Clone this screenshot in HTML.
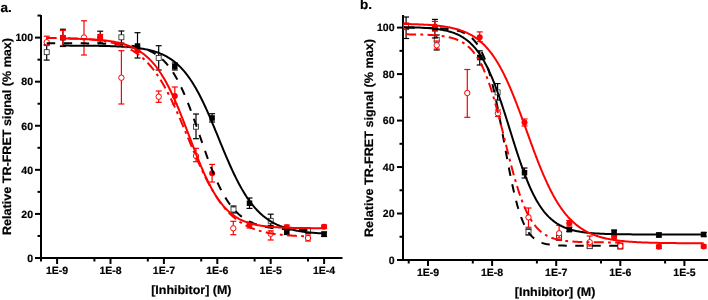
<!DOCTYPE html>
<html><head><meta charset="utf-8"><style>
html,body{margin:0;padding:0;background:#fff;}
svg{display:block;will-change:transform;}
text{font-family:"Liberation Sans", sans-serif;font-weight:bold;fill:#000;text-rendering:geometricPrecision;stroke:#000;stroke-width:0.2px;}
</style></head><body>
<svg width="708" height="300" viewBox="0 0 708 300">
<line x1="41.00" y1="15.00" x2="41.00" y2="259.00" stroke="#000000" stroke-width="2"/>
<line x1="40.00" y1="258.00" x2="342.50" y2="258.00" stroke="#000000" stroke-width="2"/>
<line x1="35.00" y1="258.00" x2="41.00" y2="258.00" stroke="#000000" stroke-width="2"/>
<text x="33.00" y="261.80" font-size="10.5" text-anchor="end">0</text>
<line x1="35.00" y1="213.92" x2="41.00" y2="213.92" stroke="#000000" stroke-width="2"/>
<text x="33.00" y="217.72" font-size="10.5" text-anchor="end">20</text>
<line x1="35.00" y1="169.84" x2="41.00" y2="169.84" stroke="#000000" stroke-width="2"/>
<text x="33.00" y="173.64" font-size="10.5" text-anchor="end">40</text>
<line x1="35.00" y1="125.76" x2="41.00" y2="125.76" stroke="#000000" stroke-width="2"/>
<text x="33.00" y="129.56" font-size="10.5" text-anchor="end">60</text>
<line x1="35.00" y1="81.68" x2="41.00" y2="81.68" stroke="#000000" stroke-width="2"/>
<text x="33.00" y="85.48" font-size="10.5" text-anchor="end">80</text>
<line x1="35.00" y1="37.60" x2="41.00" y2="37.60" stroke="#000000" stroke-width="2"/>
<text x="33.00" y="41.40" font-size="10.5" text-anchor="end">100</text>
<line x1="37.50" y1="235.96" x2="41.00" y2="235.96" stroke="#000000" stroke-width="2"/>
<line x1="37.50" y1="191.88" x2="41.00" y2="191.88" stroke="#000000" stroke-width="2"/>
<line x1="37.50" y1="147.80" x2="41.00" y2="147.80" stroke="#000000" stroke-width="2"/>
<line x1="37.50" y1="103.72" x2="41.00" y2="103.72" stroke="#000000" stroke-width="2"/>
<line x1="37.50" y1="59.64" x2="41.00" y2="59.64" stroke="#000000" stroke-width="2"/>
<line x1="37.50" y1="15.56" x2="41.00" y2="15.56" stroke="#000000" stroke-width="2"/>
<line x1="57.10" y1="258.00" x2="57.10" y2="264.00" stroke="#000000" stroke-width="2"/>
<text x="57.10" y="273.70" font-size="10.5" text-anchor="middle">1E-9</text>
<line x1="110.50" y1="258.00" x2="110.50" y2="264.00" stroke="#000000" stroke-width="2"/>
<text x="110.50" y="273.70" font-size="10.5" text-anchor="middle">1E-8</text>
<line x1="163.90" y1="258.00" x2="163.90" y2="264.00" stroke="#000000" stroke-width="2"/>
<text x="163.90" y="273.70" font-size="10.5" text-anchor="middle">1E-7</text>
<line x1="217.30" y1="258.00" x2="217.30" y2="264.00" stroke="#000000" stroke-width="2"/>
<text x="217.30" y="273.70" font-size="10.5" text-anchor="middle">1E-6</text>
<line x1="270.70" y1="258.00" x2="270.70" y2="264.00" stroke="#000000" stroke-width="2"/>
<text x="270.70" y="273.70" font-size="10.5" text-anchor="middle">1E-5</text>
<line x1="324.10" y1="258.00" x2="324.10" y2="264.00" stroke="#000000" stroke-width="2"/>
<text x="324.10" y="273.70" font-size="10.5" text-anchor="middle">1E-4</text>
<line x1="41.02" y1="258.00" x2="41.02" y2="261.50" stroke="#000000" stroke-width="2"/>
<line x1="94.42" y1="258.00" x2="94.42" y2="261.50" stroke="#000000" stroke-width="2"/>
<line x1="147.82" y1="258.00" x2="147.82" y2="261.50" stroke="#000000" stroke-width="2"/>
<line x1="201.22" y1="258.00" x2="201.22" y2="261.50" stroke="#000000" stroke-width="2"/>
<line x1="254.62" y1="258.00" x2="254.62" y2="261.50" stroke="#000000" stroke-width="2"/>
<line x1="308.02" y1="258.00" x2="308.02" y2="261.50" stroke="#000000" stroke-width="2"/>
<line x1="403.00" y1="15.00" x2="403.00" y2="261.00" stroke="#000000" stroke-width="2"/>
<line x1="402.00" y1="260.00" x2="708.00" y2="260.00" stroke="#000000" stroke-width="2"/>
<line x1="397.00" y1="260.00" x2="403.00" y2="260.00" stroke="#000000" stroke-width="2"/>
<text x="394.50" y="263.80" font-size="10.5" text-anchor="end">0</text>
<line x1="397.00" y1="213.52" x2="403.00" y2="213.52" stroke="#000000" stroke-width="2"/>
<text x="394.50" y="217.32" font-size="10.5" text-anchor="end">20</text>
<line x1="397.00" y1="167.04" x2="403.00" y2="167.04" stroke="#000000" stroke-width="2"/>
<text x="394.50" y="170.84" font-size="10.5" text-anchor="end">40</text>
<line x1="397.00" y1="120.56" x2="403.00" y2="120.56" stroke="#000000" stroke-width="2"/>
<text x="394.50" y="124.36" font-size="10.5" text-anchor="end">60</text>
<line x1="397.00" y1="74.08" x2="403.00" y2="74.08" stroke="#000000" stroke-width="2"/>
<text x="394.50" y="77.88" font-size="10.5" text-anchor="end">80</text>
<line x1="397.00" y1="27.60" x2="403.00" y2="27.60" stroke="#000000" stroke-width="2"/>
<text x="394.50" y="31.40" font-size="10.5" text-anchor="end">100</text>
<line x1="399.50" y1="236.76" x2="403.00" y2="236.76" stroke="#000000" stroke-width="2"/>
<line x1="399.50" y1="190.28" x2="403.00" y2="190.28" stroke="#000000" stroke-width="2"/>
<line x1="399.50" y1="143.80" x2="403.00" y2="143.80" stroke="#000000" stroke-width="2"/>
<line x1="399.50" y1="97.32" x2="403.00" y2="97.32" stroke="#000000" stroke-width="2"/>
<line x1="399.50" y1="50.84" x2="403.00" y2="50.84" stroke="#000000" stroke-width="2"/>
<line x1="428.00" y1="260.00" x2="428.00" y2="266.00" stroke="#000000" stroke-width="2"/>
<text x="428.00" y="275.70" font-size="10.5" text-anchor="middle">1E-9</text>
<line x1="492.10" y1="260.00" x2="492.10" y2="266.00" stroke="#000000" stroke-width="2"/>
<text x="492.10" y="275.70" font-size="10.5" text-anchor="middle">1E-8</text>
<line x1="556.20" y1="260.00" x2="556.20" y2="266.00" stroke="#000000" stroke-width="2"/>
<text x="556.20" y="275.70" font-size="10.5" text-anchor="middle">1E-7</text>
<line x1="620.30" y1="260.00" x2="620.30" y2="266.00" stroke="#000000" stroke-width="2"/>
<text x="620.30" y="275.70" font-size="10.5" text-anchor="middle">1E-6</text>
<line x1="684.40" y1="260.00" x2="684.40" y2="266.00" stroke="#000000" stroke-width="2"/>
<text x="684.40" y="275.70" font-size="10.5" text-anchor="middle">1E-5</text>
<line x1="408.70" y1="260.00" x2="408.70" y2="263.50" stroke="#000000" stroke-width="2"/>
<line x1="472.80" y1="260.00" x2="472.80" y2="263.50" stroke="#000000" stroke-width="2"/>
<line x1="536.90" y1="260.00" x2="536.90" y2="263.50" stroke="#000000" stroke-width="2"/>
<line x1="601.00" y1="260.00" x2="601.00" y2="263.50" stroke="#000000" stroke-width="2"/>
<line x1="665.10" y1="260.00" x2="665.10" y2="263.50" stroke="#000000" stroke-width="2"/>
<text x="151.2" y="293.6" font-size="12.2" textLength="80.3" lengthAdjust="spacingAndGlyphs">[Inhibitor] (M)</text>
<text x="514.8" y="296.1" font-size="12.2" textLength="80.6" lengthAdjust="spacingAndGlyphs">[Inhibitor] (M)</text>
<text x="0" y="0" font-size="12.2" textLength="197" lengthAdjust="spacingAndGlyphs" transform="translate(10.6,235) rotate(-90)">Relative TR-FRET signal (% max)</text>
<text x="0" y="0" font-size="12.2" textLength="198" lengthAdjust="spacingAndGlyphs" transform="translate(373.4,237) rotate(-90)">Relative TR-FRET signal (% max)</text>
<text x="0.50" y="12.30" font-size="13.5" text-anchor="start">a.</text>
<text x="360.00" y="9.20" font-size="13.5" text-anchor="start">b.</text>
<line x1="46.7" y1="44.5" x2="46.7" y2="60.1" stroke="#000000" stroke-width="1.2"/>
<line x1="43.7" y1="44.5" x2="49.7" y2="44.5" stroke="#000000" stroke-width="1.2"/>
<line x1="43.7" y1="60.1" x2="49.7" y2="60.1" stroke="#000000" stroke-width="1.2"/>
<rect x="44.2" y="49.7" width="5" height="5" fill="#fff" stroke="#222" stroke-width="0.8"/>
<line x1="121.4" y1="31" x2="121.4" y2="43" stroke="#000000" stroke-width="1.2"/>
<line x1="118.4" y1="31" x2="124.4" y2="31" stroke="#000000" stroke-width="1.2"/>
<line x1="118.4" y1="43" x2="124.4" y2="43" stroke="#000000" stroke-width="1.2"/>
<rect x="118.9" y="34.8" width="5" height="5" fill="#fff" stroke="#222" stroke-width="0.8"/>
<line x1="158.7" y1="45.7" x2="158.7" y2="70" stroke="#000000" stroke-width="1.2"/>
<line x1="155.7" y1="45.7" x2="161.7" y2="45.7" stroke="#000000" stroke-width="1.2"/>
<line x1="155.7" y1="70" x2="161.7" y2="70" stroke="#000000" stroke-width="1.2"/>
<rect x="156.2" y="55.5" width="5" height="5" fill="#fff" stroke="#222" stroke-width="0.8"/>
<line x1="196.0" y1="114" x2="196.0" y2="138.7" stroke="#000000" stroke-width="1.2"/>
<line x1="193.0" y1="114" x2="199.0" y2="114" stroke="#000000" stroke-width="1.2"/>
<line x1="193.0" y1="138.7" x2="199.0" y2="138.7" stroke="#000000" stroke-width="1.2"/>
<rect x="193.5" y="124.2" width="5" height="5" fill="#fff" stroke="#222" stroke-width="0.8"/>
<line x1="233.5" y1="206" x2="233.5" y2="213" stroke="#000000" stroke-width="1.2"/>
<line x1="230.5" y1="206" x2="236.5" y2="206" stroke="#000000" stroke-width="1.2"/>
<line x1="230.5" y1="213" x2="236.5" y2="213" stroke="#000000" stroke-width="1.2"/>
<rect x="231.0" y="207.0" width="5" height="5" fill="#fff" stroke="#222" stroke-width="0.8"/>
<line x1="270.7" y1="214.2" x2="270.7" y2="225.4" stroke="#000000" stroke-width="1.2"/>
<line x1="267.7" y1="214.2" x2="273.7" y2="214.2" stroke="#000000" stroke-width="1.2"/>
<line x1="267.7" y1="225.4" x2="273.7" y2="225.4" stroke="#000000" stroke-width="1.2"/>
<rect x="268.2" y="218.3" width="5" height="5" fill="#fff" stroke="#222" stroke-width="0.8"/>
<line x1="308.0" y1="228" x2="308.0" y2="233" stroke="#000000" stroke-width="1.2"/>
<line x1="305.0" y1="228" x2="311.0" y2="228" stroke="#000000" stroke-width="1.2"/>
<line x1="305.0" y1="233" x2="311.0" y2="233" stroke="#000000" stroke-width="1.2"/>
<rect x="305.5" y="228.3" width="5" height="5" fill="#fff" stroke="#222" stroke-width="0.8"/>
<line x1="46.7" y1="36.2" x2="46.7" y2="45.5" stroke="#ff0000" stroke-width="1.2"/>
<line x1="43.7" y1="36.2" x2="49.7" y2="36.2" stroke="#ff0000" stroke-width="1.2"/>
<line x1="43.7" y1="45.5" x2="49.7" y2="45.5" stroke="#ff0000" stroke-width="1.2"/>
<circle cx="46.7" cy="42.2" r="2.7" fill="#fff" stroke="#ff0000" stroke-width="1"/>
<line x1="84.0" y1="20.8" x2="84.0" y2="55" stroke="#ff0000" stroke-width="1.2"/>
<line x1="81.0" y1="20.8" x2="87.0" y2="20.8" stroke="#ff0000" stroke-width="1.2"/>
<line x1="81.0" y1="55" x2="87.0" y2="55" stroke="#ff0000" stroke-width="1.2"/>
<circle cx="84.0" cy="37.5" r="2.7" fill="#fff" stroke="#ff0000" stroke-width="1"/>
<line x1="121.4" y1="50.7" x2="121.4" y2="104" stroke="#ff0000" stroke-width="1.2"/>
<line x1="118.4" y1="50.7" x2="124.4" y2="50.7" stroke="#ff0000" stroke-width="1.2"/>
<line x1="118.4" y1="104" x2="124.4" y2="104" stroke="#ff0000" stroke-width="1.2"/>
<circle cx="121.4" cy="77.7" r="2.7" fill="#fff" stroke="#ff0000" stroke-width="1"/>
<line x1="158.7" y1="91" x2="158.7" y2="102.3" stroke="#ff0000" stroke-width="1.2"/>
<line x1="155.7" y1="91" x2="161.7" y2="91" stroke="#ff0000" stroke-width="1.2"/>
<line x1="155.7" y1="102.3" x2="161.7" y2="102.3" stroke="#ff0000" stroke-width="1.2"/>
<circle cx="158.7" cy="96.7" r="2.7" fill="#fff" stroke="#ff0000" stroke-width="1"/>
<line x1="196.0" y1="148.3" x2="196.0" y2="161.7" stroke="#ff0000" stroke-width="1.2"/>
<line x1="193.0" y1="148.3" x2="199.0" y2="148.3" stroke="#ff0000" stroke-width="1.2"/>
<line x1="193.0" y1="161.7" x2="199.0" y2="161.7" stroke="#ff0000" stroke-width="1.2"/>
<circle cx="196.0" cy="156" r="2.7" fill="#fff" stroke="#ff0000" stroke-width="1"/>
<line x1="233.3" y1="221.3" x2="233.3" y2="234.7" stroke="#ff0000" stroke-width="1.2"/>
<line x1="230.3" y1="221.3" x2="236.3" y2="221.3" stroke="#ff0000" stroke-width="1.2"/>
<line x1="230.3" y1="234.7" x2="236.3" y2="234.7" stroke="#ff0000" stroke-width="1.2"/>
<circle cx="233.3" cy="228.3" r="2.7" fill="#fff" stroke="#ff0000" stroke-width="1"/>
<line x1="270.7" y1="230.8" x2="270.7" y2="240" stroke="#ff0000" stroke-width="1.2"/>
<line x1="267.7" y1="230.8" x2="273.7" y2="230.8" stroke="#ff0000" stroke-width="1.2"/>
<line x1="267.7" y1="240" x2="273.7" y2="240" stroke="#ff0000" stroke-width="1.2"/>
<circle cx="270.7" cy="233.8" r="2.7" fill="#fff" stroke="#ff0000" stroke-width="1"/>
<line x1="308.0" y1="235" x2="308.0" y2="241" stroke="#ff0000" stroke-width="1.2"/>
<line x1="305.0" y1="235" x2="311.0" y2="235" stroke="#ff0000" stroke-width="1.2"/>
<line x1="305.0" y1="241" x2="311.0" y2="241" stroke="#ff0000" stroke-width="1.2"/>
<circle cx="308.0" cy="238" r="2.7" fill="#fff" stroke="#ff0000" stroke-width="1"/>
<line x1="62.9" y1="29.2" x2="62.9" y2="46.5" stroke="#000000" stroke-width="1.2"/>
<line x1="59.9" y1="29.2" x2="65.9" y2="29.2" stroke="#000000" stroke-width="1.2"/>
<line x1="59.9" y1="46.5" x2="65.9" y2="46.5" stroke="#000000" stroke-width="1.2"/>
<rect x="60.15" y="35.05" width="5.5" height="5.5" fill="#000000"/>
<line x1="100.2" y1="31.2" x2="100.2" y2="42.9" stroke="#000000" stroke-width="1.2"/>
<line x1="97.2" y1="31.2" x2="103.2" y2="31.2" stroke="#000000" stroke-width="1.2"/>
<line x1="97.2" y1="42.9" x2="103.2" y2="42.9" stroke="#000000" stroke-width="1.2"/>
<rect x="97.45" y="35.25" width="5.5" height="5.5" fill="#000000"/>
<line x1="137.5" y1="32.7" x2="137.5" y2="58" stroke="#000000" stroke-width="1.2"/>
<line x1="134.5" y1="32.7" x2="140.5" y2="32.7" stroke="#000000" stroke-width="1.2"/>
<line x1="134.5" y1="58" x2="140.5" y2="58" stroke="#000000" stroke-width="1.2"/>
<rect x="134.75" y="43.25" width="5.5" height="5.5" fill="#000000"/>
<line x1="174.8" y1="63" x2="174.8" y2="70" stroke="#000000" stroke-width="1.2"/>
<line x1="171.8" y1="63" x2="177.8" y2="63" stroke="#000000" stroke-width="1.2"/>
<line x1="171.8" y1="70" x2="177.8" y2="70" stroke="#000000" stroke-width="1.2"/>
<rect x="172.05" y="63.75" width="5.5" height="5.5" fill="#000000"/>
<line x1="212.1" y1="113.7" x2="212.1" y2="122" stroke="#000000" stroke-width="1.2"/>
<line x1="209.1" y1="113.7" x2="215.1" y2="113.7" stroke="#000000" stroke-width="1.2"/>
<line x1="209.1" y1="122" x2="215.1" y2="122" stroke="#000000" stroke-width="1.2"/>
<rect x="209.35" y="115.25" width="5.5" height="5.5" fill="#000000"/>
<line x1="249.5" y1="198" x2="249.5" y2="208.4" stroke="#000000" stroke-width="1.2"/>
<line x1="246.5" y1="198" x2="252.5" y2="198" stroke="#000000" stroke-width="1.2"/>
<line x1="246.5" y1="208.4" x2="252.5" y2="208.4" stroke="#000000" stroke-width="1.2"/>
<rect x="246.75" y="200.45" width="5.5" height="5.5" fill="#000000"/>
<line x1="286.8" y1="229" x2="286.8" y2="234.5" stroke="#000000" stroke-width="1.2"/>
<line x1="283.8" y1="229" x2="289.8" y2="229" stroke="#000000" stroke-width="1.2"/>
<line x1="283.8" y1="234.5" x2="289.8" y2="234.5" stroke="#000000" stroke-width="1.2"/>
<rect x="284.05" y="228.95" width="5.5" height="5.5" fill="#000000"/>
<line x1="324.1" y1="232" x2="324.1" y2="236.5" stroke="#000000" stroke-width="1.2"/>
<line x1="321.1" y1="232" x2="327.1" y2="232" stroke="#000000" stroke-width="1.2"/>
<line x1="321.1" y1="236.5" x2="327.1" y2="236.5" stroke="#000000" stroke-width="1.2"/>
<rect x="321.35" y="231.45" width="5.5" height="5.5" fill="#000000"/>
<line x1="62.9" y1="30.5" x2="62.9" y2="45.5" stroke="#ff0000" stroke-width="1.2"/>
<line x1="59.9" y1="30.5" x2="65.9" y2="30.5" stroke="#ff0000" stroke-width="1.2"/>
<line x1="59.9" y1="45.5" x2="65.9" y2="45.5" stroke="#ff0000" stroke-width="1.2"/>
<circle cx="62.9" cy="37.5" r="3" fill="#ff0000"/>
<line x1="100.2" y1="34.5" x2="100.2" y2="41" stroke="#ff0000" stroke-width="1.2"/>
<line x1="97.2" y1="34.5" x2="103.2" y2="34.5" stroke="#ff0000" stroke-width="1.2"/>
<line x1="97.2" y1="41" x2="103.2" y2="41" stroke="#ff0000" stroke-width="1.2"/>
<circle cx="100.2" cy="37.8" r="3" fill="#ff0000"/>
<line x1="137.5" y1="48.5" x2="137.5" y2="52.5" stroke="#ff0000" stroke-width="1.2"/>
<line x1="134.5" y1="48.5" x2="140.5" y2="48.5" stroke="#ff0000" stroke-width="1.2"/>
<line x1="134.5" y1="52.5" x2="140.5" y2="52.5" stroke="#ff0000" stroke-width="1.2"/>
<circle cx="137.5" cy="50.5" r="3" fill="#ff0000"/>
<line x1="174.8" y1="87" x2="174.8" y2="104" stroke="#ff0000" stroke-width="1.2"/>
<line x1="171.8" y1="87" x2="177.8" y2="87" stroke="#ff0000" stroke-width="1.2"/>
<line x1="171.8" y1="104" x2="177.8" y2="104" stroke="#ff0000" stroke-width="1.2"/>
<circle cx="174.8" cy="96" r="3" fill="#ff0000"/>
<line x1="212.1" y1="164.4" x2="212.1" y2="182" stroke="#ff0000" stroke-width="1.2"/>
<line x1="209.1" y1="164.4" x2="215.1" y2="164.4" stroke="#ff0000" stroke-width="1.2"/>
<line x1="209.1" y1="182" x2="215.1" y2="182" stroke="#ff0000" stroke-width="1.2"/>
<circle cx="212.1" cy="173.3" r="3" fill="#ff0000"/>
<line x1="249.5" y1="222" x2="249.5" y2="228" stroke="#ff0000" stroke-width="1.2"/>
<line x1="246.5" y1="222" x2="252.5" y2="222" stroke="#ff0000" stroke-width="1.2"/>
<line x1="246.5" y1="228" x2="252.5" y2="228" stroke="#ff0000" stroke-width="1.2"/>
<circle cx="249.5" cy="225" r="3" fill="#ff0000"/>
<line x1="286.8" y1="225" x2="286.8" y2="229.5" stroke="#ff0000" stroke-width="1.2"/>
<line x1="283.8" y1="225" x2="289.8" y2="225" stroke="#ff0000" stroke-width="1.2"/>
<line x1="283.8" y1="229.5" x2="289.8" y2="229.5" stroke="#ff0000" stroke-width="1.2"/>
<circle cx="286.8" cy="227.2" r="3" fill="#ff0000"/>
<line x1="324.1" y1="225" x2="324.1" y2="228.5" stroke="#ff0000" stroke-width="1.2"/>
<line x1="321.1" y1="225" x2="327.1" y2="225" stroke="#ff0000" stroke-width="1.2"/>
<line x1="321.1" y1="228.5" x2="327.1" y2="228.5" stroke="#ff0000" stroke-width="1.2"/>
<circle cx="324.1" cy="226.7" r="3" fill="#ff0000"/>
<line x1="406.1" y1="17" x2="406.1" y2="38.5" stroke="#000000" stroke-width="1.2"/>
<line x1="403.1" y1="17" x2="409.1" y2="17" stroke="#000000" stroke-width="1.2"/>
<line x1="403.1" y1="38.5" x2="409.1" y2="38.5" stroke="#000000" stroke-width="1.2"/>
<rect x="403.6" y="24.5" width="5" height="5" fill="#fff" stroke="#222" stroke-width="0.8"/>
<line x1="436.7" y1="35" x2="436.7" y2="50" stroke="#000000" stroke-width="1.2"/>
<line x1="433.7" y1="35" x2="439.7" y2="35" stroke="#000000" stroke-width="1.2"/>
<line x1="433.7" y1="50" x2="439.7" y2="50" stroke="#000000" stroke-width="1.2"/>
<rect x="434.2" y="37.3" width="5" height="5" fill="#fff" stroke="#222" stroke-width="0.8"/>
<line x1="497.6" y1="83.6" x2="497.6" y2="100" stroke="#000000" stroke-width="1.2"/>
<line x1="494.6" y1="83.6" x2="500.6" y2="83.6" stroke="#000000" stroke-width="1.2"/>
<line x1="494.6" y1="100" x2="500.6" y2="100" stroke="#000000" stroke-width="1.2"/>
<rect x="495.1" y="89.9" width="5" height="5" fill="#fff" stroke="#222" stroke-width="0.8"/>
<line x1="528.5" y1="229" x2="528.5" y2="235" stroke="#000000" stroke-width="1.2"/>
<line x1="525.5" y1="229" x2="531.5" y2="229" stroke="#000000" stroke-width="1.2"/>
<line x1="525.5" y1="235" x2="531.5" y2="235" stroke="#000000" stroke-width="1.2"/>
<rect x="526.0" y="229.5" width="5" height="5" fill="#fff" stroke="#222" stroke-width="0.8"/>
<line x1="559.1" y1="236" x2="559.1" y2="240" stroke="#000000" stroke-width="1.2"/>
<line x1="556.1" y1="236" x2="562.1" y2="236" stroke="#000000" stroke-width="1.2"/>
<line x1="556.1" y1="240" x2="562.1" y2="240" stroke="#000000" stroke-width="1.2"/>
<rect x="556.6" y="235.5" width="5" height="5" fill="#fff" stroke="#222" stroke-width="0.8"/>
<line x1="589.7" y1="244" x2="589.7" y2="248" stroke="#000000" stroke-width="1.2"/>
<line x1="586.7" y1="244" x2="592.7" y2="244" stroke="#000000" stroke-width="1.2"/>
<line x1="586.7" y1="248" x2="592.7" y2="248" stroke="#000000" stroke-width="1.2"/>
<rect x="587.2" y="243.7" width="5" height="5" fill="#fff" stroke="#222" stroke-width="0.8"/>
<line x1="620.3" y1="244" x2="620.3" y2="248" stroke="#000000" stroke-width="1.2"/>
<line x1="617.3" y1="244" x2="623.3" y2="244" stroke="#000000" stroke-width="1.2"/>
<line x1="617.3" y1="248" x2="623.3" y2="248" stroke="#000000" stroke-width="1.2"/>
<rect x="617.8" y="243.7" width="5" height="5" fill="#fff" stroke="#222" stroke-width="0.8"/>
<line x1="406.1" y1="23" x2="406.1" y2="29.5" stroke="#ff0000" stroke-width="1.2"/>
<line x1="403.1" y1="23" x2="409.1" y2="23" stroke="#ff0000" stroke-width="1.2"/>
<line x1="403.1" y1="29.5" x2="409.1" y2="29.5" stroke="#ff0000" stroke-width="1.2"/>
<circle cx="406.1" cy="26" r="2.7" fill="#fff" stroke="#ff0000" stroke-width="1"/>
<line x1="436.7" y1="41" x2="436.7" y2="49" stroke="#ff0000" stroke-width="1.2"/>
<line x1="433.7" y1="41" x2="439.7" y2="41" stroke="#ff0000" stroke-width="1.2"/>
<line x1="433.7" y1="49" x2="439.7" y2="49" stroke="#ff0000" stroke-width="1.2"/>
<circle cx="436.7" cy="45.3" r="2.7" fill="#fff" stroke="#ff0000" stroke-width="1"/>
<line x1="467.3" y1="69.5" x2="467.3" y2="117.3" stroke="#ff0000" stroke-width="1.2"/>
<line x1="464.3" y1="69.5" x2="470.3" y2="69.5" stroke="#ff0000" stroke-width="1.2"/>
<line x1="464.3" y1="117.3" x2="470.3" y2="117.3" stroke="#ff0000" stroke-width="1.2"/>
<circle cx="467.3" cy="93" r="2.7" fill="#fff" stroke="#ff0000" stroke-width="1"/>
<line x1="497.9" y1="110" x2="497.9" y2="116.5" stroke="#ff0000" stroke-width="1.2"/>
<line x1="494.9" y1="110" x2="500.9" y2="110" stroke="#ff0000" stroke-width="1.2"/>
<line x1="494.9" y1="116.5" x2="500.9" y2="116.5" stroke="#ff0000" stroke-width="1.2"/>
<circle cx="497.9" cy="113.3" r="2.7" fill="#fff" stroke="#ff0000" stroke-width="1"/>
<line x1="528.5" y1="208" x2="528.5" y2="227.3" stroke="#ff0000" stroke-width="1.2"/>
<line x1="525.5" y1="208" x2="531.5" y2="208" stroke="#ff0000" stroke-width="1.2"/>
<line x1="525.5" y1="227.3" x2="531.5" y2="227.3" stroke="#ff0000" stroke-width="1.2"/>
<circle cx="528.5" cy="217.3" r="2.7" fill="#fff" stroke="#ff0000" stroke-width="1"/>
<line x1="559.1" y1="225.3" x2="559.1" y2="238" stroke="#ff0000" stroke-width="1.2"/>
<line x1="556.1" y1="225.3" x2="562.1" y2="225.3" stroke="#ff0000" stroke-width="1.2"/>
<line x1="556.1" y1="238" x2="562.1" y2="238" stroke="#ff0000" stroke-width="1.2"/>
<circle cx="559.1" cy="233.3" r="2.7" fill="#fff" stroke="#ff0000" stroke-width="1"/>
<line x1="589.7" y1="236" x2="589.7" y2="246" stroke="#ff0000" stroke-width="1.2"/>
<line x1="586.7" y1="236" x2="592.7" y2="236" stroke="#ff0000" stroke-width="1.2"/>
<line x1="586.7" y1="246" x2="592.7" y2="246" stroke="#ff0000" stroke-width="1.2"/>
<circle cx="589.7" cy="242.2" r="2.7" fill="#fff" stroke="#ff0000" stroke-width="1"/>
<line x1="620.3" y1="243" x2="620.3" y2="249" stroke="#ff0000" stroke-width="1.2"/>
<line x1="617.3" y1="243" x2="623.3" y2="243" stroke="#ff0000" stroke-width="1.2"/>
<line x1="617.3" y1="249" x2="623.3" y2="249" stroke="#ff0000" stroke-width="1.2"/>
<circle cx="620.3" cy="246" r="2.7" fill="#fff" stroke="#ff0000" stroke-width="1"/>
<line x1="434.9" y1="19.4" x2="434.9" y2="38" stroke="#000000" stroke-width="1.2"/>
<line x1="431.9" y1="19.4" x2="437.9" y2="19.4" stroke="#000000" stroke-width="1.2"/>
<line x1="431.9" y1="38" x2="437.9" y2="38" stroke="#000000" stroke-width="1.2"/>
<rect x="432.15" y="25.75" width="5.5" height="5.5" fill="#000000"/>
<line x1="479.7" y1="50.8" x2="479.7" y2="65" stroke="#000000" stroke-width="1.2"/>
<line x1="476.7" y1="50.8" x2="482.7" y2="50.8" stroke="#000000" stroke-width="1.2"/>
<line x1="476.7" y1="65" x2="482.7" y2="65" stroke="#000000" stroke-width="1.2"/>
<rect x="476.95" y="54.75" width="5.5" height="5.5" fill="#000000"/>
<line x1="524.5" y1="168" x2="524.5" y2="178" stroke="#000000" stroke-width="1.2"/>
<line x1="521.5" y1="168" x2="527.5" y2="168" stroke="#000000" stroke-width="1.2"/>
<line x1="521.5" y1="178" x2="527.5" y2="178" stroke="#000000" stroke-width="1.2"/>
<rect x="521.75" y="169.95" width="5.5" height="5.5" fill="#000000"/>
<line x1="569.3" y1="227.5" x2="569.3" y2="231.5" stroke="#000000" stroke-width="1.2"/>
<line x1="566.3" y1="227.5" x2="572.3" y2="227.5" stroke="#000000" stroke-width="1.2"/>
<line x1="566.3" y1="231.5" x2="572.3" y2="231.5" stroke="#000000" stroke-width="1.2"/>
<rect x="566.55" y="226.85" width="5.5" height="5.5" fill="#000000"/>
<line x1="614.1" y1="230" x2="614.1" y2="235" stroke="#000000" stroke-width="1.2"/>
<line x1="611.1" y1="230" x2="617.1" y2="230" stroke="#000000" stroke-width="1.2"/>
<line x1="611.1" y1="235" x2="617.1" y2="235" stroke="#000000" stroke-width="1.2"/>
<rect x="611.35" y="229.85" width="5.5" height="5.5" fill="#000000"/>
<line x1="658.9" y1="233" x2="658.9" y2="237" stroke="#000000" stroke-width="1.2"/>
<line x1="655.9" y1="233" x2="661.9" y2="233" stroke="#000000" stroke-width="1.2"/>
<line x1="655.9" y1="237" x2="661.9" y2="237" stroke="#000000" stroke-width="1.2"/>
<rect x="656.15" y="232.25" width="5.5" height="5.5" fill="#000000"/>
<line x1="703.7" y1="232.5" x2="703.7" y2="236.5" stroke="#000000" stroke-width="1.2"/>
<line x1="700.7" y1="232.5" x2="706.7" y2="232.5" stroke="#000000" stroke-width="1.2"/>
<line x1="700.7" y1="236.5" x2="706.7" y2="236.5" stroke="#000000" stroke-width="1.2"/>
<rect x="700.95" y="231.75" width="5.5" height="5.5" fill="#000000"/>
<line x1="434.9" y1="21.4" x2="434.9" y2="31" stroke="#ff0000" stroke-width="1.2"/>
<line x1="431.9" y1="21.4" x2="437.9" y2="21.4" stroke="#ff0000" stroke-width="1.2"/>
<line x1="431.9" y1="31" x2="437.9" y2="31" stroke="#ff0000" stroke-width="1.2"/>
<circle cx="434.9" cy="26.5" r="3" fill="#ff0000"/>
<line x1="479.7" y1="31.9" x2="479.7" y2="41.7" stroke="#ff0000" stroke-width="1.2"/>
<line x1="476.7" y1="31.9" x2="482.7" y2="31.9" stroke="#ff0000" stroke-width="1.2"/>
<line x1="476.7" y1="41.7" x2="482.7" y2="41.7" stroke="#ff0000" stroke-width="1.2"/>
<circle cx="479.7" cy="37.3" r="3" fill="#ff0000"/>
<line x1="524.5" y1="119" x2="524.5" y2="126" stroke="#ff0000" stroke-width="1.2"/>
<line x1="521.5" y1="119" x2="527.5" y2="119" stroke="#ff0000" stroke-width="1.2"/>
<line x1="521.5" y1="126" x2="527.5" y2="126" stroke="#ff0000" stroke-width="1.2"/>
<circle cx="524.5" cy="122.5" r="3" fill="#ff0000"/>
<line x1="569.3" y1="220.5" x2="569.3" y2="226" stroke="#ff0000" stroke-width="1.2"/>
<line x1="566.3" y1="220.5" x2="572.3" y2="220.5" stroke="#ff0000" stroke-width="1.2"/>
<line x1="566.3" y1="226" x2="572.3" y2="226" stroke="#ff0000" stroke-width="1.2"/>
<circle cx="569.3" cy="223.3" r="3" fill="#ff0000"/>
<line x1="614.1" y1="234" x2="614.1" y2="239" stroke="#ff0000" stroke-width="1.2"/>
<line x1="611.1" y1="234" x2="617.1" y2="234" stroke="#ff0000" stroke-width="1.2"/>
<line x1="611.1" y1="239" x2="617.1" y2="239" stroke="#ff0000" stroke-width="1.2"/>
<circle cx="614.1" cy="236.8" r="3" fill="#ff0000"/>
<line x1="658.9" y1="245" x2="658.9" y2="248.5" stroke="#ff0000" stroke-width="1.2"/>
<line x1="655.9" y1="245" x2="661.9" y2="245" stroke="#ff0000" stroke-width="1.2"/>
<line x1="655.9" y1="248.5" x2="661.9" y2="248.5" stroke="#ff0000" stroke-width="1.2"/>
<circle cx="658.9" cy="246.8" r="3" fill="#ff0000"/>
<line x1="703.7" y1="245" x2="703.7" y2="248" stroke="#ff0000" stroke-width="1.2"/>
<line x1="700.7" y1="245" x2="706.7" y2="245" stroke="#ff0000" stroke-width="1.2"/>
<line x1="700.7" y1="248" x2="706.7" y2="248" stroke="#ff0000" stroke-width="1.2"/>
<circle cx="703.7" cy="246.5" r="3" fill="#ff0000"/>
<polyline points="62.9,45.61 63.9,45.61 64.9,45.61 65.9,45.61 66.9,45.62 67.9,45.62 68.9,45.62 69.9,45.63 70.9,45.63 71.9,45.63 72.9,45.64 73.9,45.64 74.9,45.65 75.9,45.65 76.9,45.66 77.9,45.66 78.9,45.67 79.9,45.67 80.9,45.68 81.9,45.69 82.9,45.69 83.9,45.70 84.9,45.71 85.9,45.72 86.9,45.73 87.9,45.73 88.9,45.74 89.9,45.75 90.9,45.76 91.9,45.78 92.9,45.79 93.9,45.80 94.9,45.81 95.9,45.83 96.9,45.84 97.9,45.86 98.9,45.87 99.9,45.89 100.9,45.91 101.9,45.93 102.9,45.95 103.9,45.97 104.9,45.99 105.9,46.02 106.9,46.04 107.9,46.07 108.9,46.10 109.9,46.12 110.9,46.16 111.9,46.19 112.9,46.22 113.9,46.26 114.9,46.30 115.9,46.34 116.9,46.38 117.9,46.42 118.9,46.47 119.9,46.52 120.9,46.57 121.9,46.63 122.9,46.69 123.9,46.75 124.9,46.81 125.9,46.88 126.9,46.95 127.9,47.03 128.9,47.11 129.9,47.19 130.9,47.28 131.9,47.38 132.9,47.48 133.9,47.58 134.9,47.69 135.9,47.81 136.9,47.93 137.9,48.06 138.9,48.19 139.9,48.33 140.9,48.48 141.9,48.64 142.9,48.81 143.9,48.98 144.9,49.16 145.9,49.36 146.9,49.56 147.9,49.78 148.9,50.00 149.9,50.24 150.9,50.49 151.9,50.75 152.9,51.03 153.9,51.32 154.9,51.63 155.9,51.95 156.9,52.28 157.9,52.64 158.9,53.01 159.9,53.40 160.9,53.81 161.9,54.24 162.9,54.70 163.9,55.17 164.9,55.67 165.9,56.19 166.9,56.74 167.9,57.31 168.9,57.91 169.9,58.54 170.9,59.20 171.9,59.89 172.9,60.61 173.9,61.36 174.9,62.15 175.9,62.97 176.9,63.83 177.9,64.73 178.9,65.67 179.9,66.64 180.9,67.65 181.9,68.71 182.9,69.81 183.9,70.96 184.9,72.14 185.9,73.38 186.9,74.66 187.9,75.99 188.9,77.36 189.9,78.79 190.9,80.26 191.9,81.78 192.9,83.36 193.9,84.98 194.9,86.65 195.9,88.37 196.9,90.15 197.9,91.97 198.9,93.83 199.9,95.75 200.9,97.71 201.9,99.72 202.9,101.77 203.9,103.87 204.9,106.00 205.9,108.18 206.9,110.39 207.9,112.64 208.9,114.92 209.9,117.22 210.9,119.56 211.9,121.92 212.9,124.30 213.9,126.70 214.9,129.12 215.9,131.55 216.9,133.98 217.9,136.43 218.9,138.87 219.9,141.32 220.9,143.76 221.9,146.19 222.9,148.61 223.9,151.02 224.9,153.41 225.9,155.78 226.9,158.13 227.9,160.45 228.9,162.75 229.9,165.01 230.9,167.24 231.9,169.44 232.9,171.60 233.9,173.72 234.9,175.80 235.9,177.83 236.9,179.83 237.9,181.78 238.9,183.69 239.9,185.54 240.9,187.36 241.9,189.12 242.9,190.84 243.9,192.51 244.9,194.13 245.9,195.71 246.9,197.23 247.9,198.71 248.9,200.15 249.9,201.53 250.9,202.88 251.9,204.17 252.9,205.42 253.9,206.63 254.9,207.80 255.9,208.92 256.9,210.01 257.9,211.05 258.9,212.05 259.9,213.02 260.9,213.95 261.9,214.84 262.9,215.70 263.9,216.52 264.9,217.31 265.9,218.07 266.9,218.80 267.9,219.50 268.9,220.17 269.9,220.81 270.9,221.43 271.9,222.01 272.9,222.58 273.9,223.12 274.9,223.64 275.9,224.13 276.9,224.61 277.9,225.06 278.9,225.49 279.9,225.91 280.9,226.30 281.9,226.68 282.9,227.04 283.9,227.39 284.9,227.72 285.9,228.04 286.9,228.34 287.9,228.63 288.9,228.90 289.9,229.16 290.9,229.41 291.9,229.65 292.9,229.88 293.9,230.10 294.9,230.31 295.9,230.51 296.9,230.70 297.9,230.88 298.9,231.05 299.9,231.22 300.9,231.37 301.9,231.52 302.9,231.67 303.9,231.80 304.9,231.93 305.9,232.06 306.9,232.18 307.9,232.29 308.9,232.40 309.9,232.50 310.9,232.60 311.9,232.69 312.9,232.78 313.9,232.86 314.9,232.94 315.9,233.02 316.9,233.09 317.9,233.16 318.9,233.23 319.9,233.30 320.9,233.36 321.9,233.41 322.9,233.47 323.9,233.52 324.1,233.53" fill="none" stroke="#000000" stroke-width="2.0" stroke-linejoin="round"/>
<polyline points="46.7,43.24 47.7,43.24 48.7,43.24 49.7,43.24 50.7,43.24 51.7,43.24 52.7,43.24 53.7,43.24 54.7,43.24 55.7,43.25 56.7,43.25 57.7,43.25 58.7,43.25 59.7,43.25 60.7,43.25 61.7,43.26 62.7,43.26 63.7,43.26 64.7,43.26 65.7,43.26 66.7,43.27 67.7,43.27 68.7,43.27 69.7,43.28 70.7,43.28 71.7,43.28 72.7,43.29 73.7,43.29 74.7,43.30 75.7,43.30 76.7,43.30 77.7,43.31 78.7,43.32 79.7,43.32 80.7,43.33 81.7,43.33 82.7,43.34 83.7,43.35 84.7,43.36 85.7,43.37 86.7,43.38 87.7,43.39 88.7,43.40 89.7,43.41 90.7,43.42 91.7,43.43 92.7,43.44 93.7,43.46 94.7,43.47 95.7,43.49 96.7,43.51 97.7,43.53 98.7,43.55 99.7,43.57 100.7,43.59 101.7,43.61 102.7,43.64 103.7,43.66 104.7,43.69 105.7,43.72 106.7,43.76 107.7,43.79 108.7,43.83 109.7,43.86 110.7,43.91 111.7,43.95 112.7,44.00 113.7,44.05 114.7,44.10 115.7,44.16 116.7,44.22 117.7,44.28 118.7,44.35 119.7,44.42 120.7,44.50 121.7,44.58 122.7,44.67 123.7,44.76 124.7,44.86 125.7,44.97 126.7,45.08 127.7,45.20 128.7,45.33 129.7,45.46 130.7,45.60 131.7,45.76 132.7,45.92 133.7,46.09 134.7,46.27 135.7,46.47 136.7,46.68 137.7,46.90 138.7,47.13 139.7,47.38 140.7,47.64 141.7,47.92 142.7,48.22 143.7,48.53 144.7,48.87 145.7,49.22 146.7,49.60 147.7,50.00 148.7,50.42 149.7,50.87 150.7,51.34 151.7,51.85 152.7,52.38 153.7,52.94 154.7,53.54 155.7,54.17 156.7,54.83 157.7,55.54 158.7,56.28 159.7,57.06 160.7,57.89 161.7,58.76 162.7,59.68 163.7,60.65 164.7,61.67 165.7,62.74 166.7,63.86 167.7,65.05 168.7,66.28 169.7,67.58 170.7,68.94 171.7,70.37 172.7,71.85 173.7,73.41 174.7,75.03 175.7,76.72 176.7,78.48 177.7,80.30 178.7,82.20 179.7,84.17 180.7,86.20 181.7,88.31 182.7,90.48 183.7,92.72 184.7,95.03 185.7,97.40 186.7,99.84 187.7,102.33 188.7,104.88 189.7,107.48 190.7,110.14 191.7,112.84 192.7,115.58 193.7,118.36 194.7,121.17 195.7,124.01 196.7,126.88 197.7,129.76 198.7,132.65 199.7,135.54 200.7,138.44 201.7,141.34 202.7,144.22 203.7,147.08 204.7,149.93 205.7,152.75 206.7,155.54 207.7,158.29 208.7,161.00 209.7,163.66 210.7,166.28 211.7,168.85 212.7,171.36 213.7,173.81 214.7,176.20 215.7,178.53 216.7,180.79 217.7,182.99 218.7,185.12 219.7,187.19 220.7,189.18 221.7,191.11 222.7,192.97 223.7,194.76 224.7,196.48 225.7,198.14 226.7,199.73 227.7,201.26 228.7,202.72 229.7,204.12 230.7,205.46 231.7,206.74 232.7,207.96 233.7,209.13 234.7,210.24 235.7,211.30 236.7,212.31 237.7,213.27 238.7,214.19 239.7,215.06 240.7,215.88 241.7,216.67 242.7,217.41 243.7,218.12 244.7,218.79 245.7,219.43 246.7,220.03 247.7,220.60 248.7,221.14 249.7,221.65 250.7,222.14 251.7,222.59 252.7,223.03 253.7,223.44 254.7,223.82 255.7,224.19 256.7,224.54 257.7,224.86 258.7,225.17 259.7,225.47 260.7,225.74 261.7,226.00 262.7,226.25 263.7,226.48 264.7,226.70 265.7,226.91 266.7,227.10 267.7,227.28 268.7,227.46 269.7,227.62 270.7,227.78 271.7,227.92 272.7,228.06 273.7,228.19 274.7,228.31 275.7,228.43 276.7,228.54 277.7,228.64 278.7,228.73 279.7,228.83 280.7,228.91 281.7,228.99 282.7,229.07 283.7,229.14 284.7,229.21 285.7,229.27 286.7,229.33 287.7,229.39 288.7,229.44 289.7,229.49 290.7,229.54 291.7,229.58 292.7,229.63 293.7,229.67 294.7,229.70 295.7,229.74 296.7,229.77 297.7,229.80 298.7,229.83 299.7,229.86 300.7,229.89 301.7,229.91 302.7,229.93 303.7,229.96 304.7,229.98 305.7,230.00 306.7,230.01 307.7,230.03 308.0,230.04" fill="none" stroke="#000000" stroke-width="2.0" stroke-dasharray="8.5,8.5" stroke-linejoin="round"/>
<polyline points="62.9,38.53 63.9,38.54 64.9,38.56 65.9,38.57 66.9,38.59 67.9,38.60 68.9,38.62 69.9,38.64 70.9,38.66 71.9,38.68 72.9,38.70 73.9,38.72 74.9,38.74 75.9,38.77 76.9,38.79 77.9,38.82 78.9,38.85 79.9,38.88 80.9,38.91 81.9,38.94 82.9,38.98 83.9,39.02 84.9,39.05 85.9,39.10 86.9,39.14 87.9,39.18 88.9,39.23 89.9,39.28 90.9,39.34 91.9,39.39 92.9,39.45 93.9,39.52 94.9,39.58 95.9,39.65 96.9,39.73 97.9,39.80 98.9,39.88 99.9,39.97 100.9,40.06 101.9,40.15 102.9,40.25 103.9,40.36 104.9,40.47 105.9,40.59 106.9,40.71 107.9,40.84 108.9,40.98 109.9,41.12 110.9,41.27 111.9,41.43 112.9,41.60 113.9,41.78 114.9,41.96 115.9,42.16 116.9,42.36 117.9,42.58 118.9,42.81 119.9,43.05 120.9,43.30 121.9,43.56 122.9,43.84 123.9,44.13 124.9,44.44 125.9,44.77 126.9,45.11 127.9,45.46 128.9,45.84 129.9,46.23 130.9,46.64 131.9,47.08 132.9,47.53 133.9,48.01 134.9,48.51 135.9,49.04 136.9,49.59 137.9,50.17 138.9,50.77 139.9,51.41 140.9,52.07 141.9,52.76 142.9,53.49 143.9,54.25 144.9,55.05 145.9,55.88 146.9,56.75 147.9,57.65 148.9,58.60 149.9,59.59 150.9,60.62 151.9,61.69 152.9,62.81 153.9,63.97 154.9,65.18 155.9,66.44 156.9,67.75 157.9,69.10 158.9,70.51 159.9,71.97 160.9,73.48 161.9,75.05 162.9,76.67 163.9,78.34 164.9,80.06 165.9,81.85 166.9,83.68 167.9,85.57 168.9,87.51 169.9,89.51 170.9,91.56 171.9,93.66 172.9,95.81 173.9,98.01 174.9,100.25 175.9,102.54 176.9,104.88 177.9,107.26 178.9,109.67 179.9,112.12 180.9,114.61 181.9,117.12 182.9,119.67 183.9,122.23 184.9,124.82 185.9,127.42 186.9,130.04 187.9,132.67 188.9,135.30 189.9,137.93 190.9,140.56 191.9,143.18 192.9,145.79 193.9,148.39 194.9,150.97 195.9,153.53 196.9,156.06 197.9,158.56 198.9,161.03 199.9,163.47 200.9,165.86 201.9,168.21 202.9,170.52 203.9,172.79 204.9,175.00 205.9,177.16 206.9,179.28 207.9,181.33 208.9,183.33 209.9,185.28 210.9,187.17 211.9,189.00 212.9,190.78 213.9,192.49 214.9,194.15 215.9,195.75 216.9,197.29 217.9,198.78 218.9,200.21 219.9,201.58 220.9,202.90 221.9,204.17 222.9,205.38 223.9,206.54 224.9,207.66 225.9,208.72 226.9,209.74 227.9,210.71 228.9,211.63 229.9,212.52 230.9,213.36 231.9,214.16 232.9,214.92 233.9,215.64 234.9,216.33 235.9,216.99 236.9,217.61 237.9,218.20 238.9,218.76 239.9,219.29 240.9,219.79 241.9,220.27 242.9,220.72 243.9,221.15 244.9,221.55 245.9,221.93 246.9,222.29 247.9,222.64 248.9,222.96 249.9,223.26 250.9,223.55 251.9,223.82 252.9,224.08 253.9,224.32 254.9,224.55 255.9,224.77 256.9,224.97 257.9,225.17 258.9,225.35 259.9,225.52 260.9,225.68 261.9,225.83 262.9,225.97 263.9,226.11 264.9,226.24 265.9,226.35 266.9,226.47 267.9,226.57 268.9,226.67 269.9,226.77 270.9,226.86 271.9,226.94 272.9,227.02 273.9,227.09 274.9,227.16 275.9,227.23 276.9,227.29 277.9,227.35 278.9,227.40 279.9,227.45 280.9,227.50 281.9,227.54 282.9,227.59 283.9,227.63 284.9,227.67 285.9,227.70 286.9,227.73 287.9,227.77 288.9,227.79 289.9,227.82 290.9,227.85 291.9,227.87 292.9,227.90 293.9,227.92 294.9,227.94 295.9,227.96 296.9,227.98 297.9,227.99 298.9,228.01 299.9,228.02 300.9,228.04 301.9,228.05 302.9,228.06 303.9,228.07 304.9,228.09 305.9,228.10 306.9,228.11 307.9,228.11 308.9,228.12 309.9,228.13 310.9,228.14 311.9,228.15 312.9,228.15 313.9,228.16 314.9,228.17 315.9,228.17 316.9,228.18 317.9,228.18 318.9,228.19 319.9,228.19 320.9,228.19 321.9,228.20 322.9,228.20 323.9,228.20 324.1,228.21" fill="none" stroke="#ff0000" stroke-width="2.0" stroke-linejoin="round"/>
<polyline points="46.7,37.91 47.7,37.92 48.7,37.93 49.7,37.94 50.7,37.95 51.7,37.97 52.7,37.98 53.7,37.99 54.7,38.01 55.7,38.02 56.7,38.04 57.7,38.06 58.7,38.08 59.7,38.10 60.7,38.12 61.7,38.14 62.7,38.16 63.7,38.18 64.7,38.21 65.7,38.24 66.7,38.26 67.7,38.29 68.7,38.32 69.7,38.35 70.7,38.39 71.7,38.42 72.7,38.46 73.7,38.49 74.7,38.53 75.7,38.58 76.7,38.62 77.7,38.67 78.7,38.71 79.7,38.76 80.7,38.82 81.7,38.87 82.7,38.93 83.7,38.99 84.7,39.06 85.7,39.12 86.7,39.19 87.7,39.27 88.7,39.35 89.7,39.43 90.7,39.51 91.7,39.60 92.7,39.70 93.7,39.79 94.7,39.90 95.7,40.01 96.7,40.12 97.7,40.24 98.7,40.36 99.7,40.49 100.7,40.63 101.7,40.77 102.7,40.92 103.7,41.08 104.7,41.24 105.7,41.42 106.7,41.60 107.7,41.79 108.7,41.99 109.7,42.19 110.7,42.41 111.7,42.64 112.7,42.88 113.7,43.13 114.7,43.39 115.7,43.66 116.7,43.95 117.7,44.25 118.7,44.56 119.7,44.89 120.7,45.23 121.7,45.59 122.7,45.96 123.7,46.35 124.7,46.76 125.7,47.19 126.7,47.63 127.7,48.10 128.7,48.59 129.7,49.09 130.7,49.62 131.7,50.18 132.7,50.75 133.7,51.36 134.7,51.98 135.7,52.64 136.7,53.32 137.7,54.03 138.7,54.76 139.7,55.53 140.7,56.33 141.7,57.16 142.7,58.03 143.7,58.93 144.7,59.86 145.7,60.83 146.7,61.83 147.7,62.87 148.7,63.95 149.7,65.07 150.7,66.23 151.7,67.43 152.7,68.67 153.7,69.96 154.7,71.28 155.7,72.65 156.7,74.06 157.7,75.52 158.7,77.02 159.7,78.56 160.7,80.15 161.7,81.79 162.7,83.47 163.7,85.19 164.7,86.95 165.7,88.76 166.7,90.62 167.7,92.51 168.7,94.45 169.7,96.42 170.7,98.44 171.7,100.50 172.7,102.59 173.7,104.71 174.7,106.88 175.7,109.07 176.7,111.29 177.7,113.54 178.7,115.82 179.7,118.12 180.7,120.44 181.7,122.78 182.7,125.14 183.7,127.51 184.7,129.89 185.7,132.29 186.7,134.68 187.7,137.08 188.7,139.48 189.7,141.88 190.7,144.27 191.7,146.66 192.7,149.03 193.7,151.39 194.7,153.73 195.7,156.06 196.7,158.36 197.7,160.64 198.7,162.90 199.7,165.12 200.7,167.32 201.7,169.49 202.7,171.62 203.7,173.71 204.7,175.78 205.7,177.80 206.7,179.78 207.7,181.72 208.7,183.62 209.7,185.48 210.7,187.30 211.7,189.07 212.7,190.80 213.7,192.49 214.7,194.13 215.7,195.72 216.7,197.28 217.7,198.78 218.7,200.25 219.7,201.66 220.7,203.04 221.7,204.37 222.7,205.66 223.7,206.91 224.7,208.12 225.7,209.29 226.7,210.41 227.7,211.50 228.7,212.55 229.7,213.56 230.7,214.54 231.7,215.47 232.7,216.38 233.7,217.25 234.7,218.09 235.7,218.89 236.7,219.67 237.7,220.41 238.7,221.13 239.7,221.81 240.7,222.47 241.7,223.10 242.7,223.71 243.7,224.29 244.7,224.85 245.7,225.39 246.7,225.90 247.7,226.39 248.7,226.86 249.7,227.31 250.7,227.74 251.7,228.16 252.7,228.55 253.7,228.93 254.7,229.29 255.7,229.64 256.7,229.97 257.7,230.29 258.7,230.59 259.7,230.88 260.7,231.15 261.7,231.42 262.7,231.67 263.7,231.91 264.7,232.14 265.7,232.36 266.7,232.57 267.7,232.77 268.7,232.97 269.7,233.15 270.7,233.33 271.7,233.49 272.7,233.65 273.7,233.80 274.7,233.95 275.7,234.09 276.7,234.22 277.7,234.35 278.7,234.47 279.7,234.58 280.7,234.69 281.7,234.80 282.7,234.90 283.7,234.99 284.7,235.08 285.7,235.17 286.7,235.25 287.7,235.33 288.7,235.41 289.7,235.48 290.7,235.55 291.7,235.61 292.7,235.67 293.7,235.73 294.7,235.79 295.7,235.84 296.7,235.89 297.7,235.94 298.7,235.99 299.7,236.04 300.7,236.08 301.7,236.12 302.7,236.16 303.7,236.19 304.7,236.23 305.7,236.26 306.7,236.29 307.7,236.32 308.0,236.33" fill="none" stroke="#ff0000" stroke-width="2.0" stroke-dasharray="10,4.3,2.8,4.3" stroke-linejoin="round"/>
<polyline points="404.0,27.12 405.0,27.14 406.0,27.16 407.0,27.18 408.0,27.20 409.0,27.22 410.0,27.25 411.0,27.27 412.0,27.30 413.0,27.33 414.0,27.36 415.0,27.40 416.0,27.43 417.0,27.47 418.0,27.51 419.0,27.56 420.0,27.60 421.0,27.65 422.0,27.71 423.0,27.76 424.0,27.82 425.0,27.88 426.0,27.95 427.0,28.02 428.0,28.10 429.0,28.18 430.0,28.26 431.0,28.35 432.0,28.45 433.0,28.55 434.0,28.66 435.0,28.78 436.0,28.90 437.0,29.03 438.0,29.17 439.0,29.32 440.0,29.48 441.0,29.65 442.0,29.82 443.0,30.01 444.0,30.21 445.0,30.42 446.0,30.65 447.0,30.89 448.0,31.14 449.0,31.41 450.0,31.70 451.0,32.00 452.0,32.33 453.0,32.67 454.0,33.03 455.0,33.41 456.0,33.82 457.0,34.25 458.0,34.71 459.0,35.19 460.0,35.71 461.0,36.25 462.0,36.82 463.0,37.43 464.0,38.07 465.0,38.75 466.0,39.46 467.0,40.22 468.0,41.02 469.0,41.86 470.0,42.75 471.0,43.68 472.0,44.67 473.0,45.70 474.0,46.80 475.0,47.94 476.0,49.15 477.0,50.41 478.0,51.74 479.0,53.13 480.0,54.59 481.0,56.11 482.0,57.71 483.0,59.37 484.0,61.11 485.0,62.92 486.0,64.81 487.0,66.77 488.0,68.80 489.0,70.92 490.0,73.11 491.0,75.37 492.0,77.71 493.0,80.13 494.0,82.62 495.0,85.18 496.0,87.82 497.0,90.52 498.0,93.28 499.0,96.11 500.0,99.00 501.0,101.94 502.0,104.93 503.0,107.97 504.0,111.05 505.0,114.16 506.0,117.31 507.0,120.48 508.0,123.67 509.0,126.87 510.0,130.08 511.0,133.29 512.0,136.49 513.0,139.68 514.0,142.86 515.0,146.01 516.0,149.13 517.0,152.22 518.0,155.26 519.0,158.27 520.0,161.22 521.0,164.12 522.0,166.96 523.0,169.75 524.0,172.46 525.0,175.11 526.0,177.69 527.0,180.20 528.0,182.64 529.0,185.00 530.0,187.29 531.0,189.50 532.0,191.63 533.0,193.69 534.0,195.67 535.0,197.58 536.0,199.41 537.0,201.17 538.0,202.86 539.0,204.48 540.0,206.02 541.0,207.50 542.0,208.92 543.0,210.26 544.0,211.55 545.0,212.78 546.0,213.94 547.0,215.06 548.0,216.11 549.0,217.12 550.0,218.07 551.0,218.98 552.0,219.84 553.0,220.65 554.0,221.43 555.0,222.16 556.0,222.85 557.0,223.51 558.0,224.13 559.0,224.72 560.0,225.28 561.0,225.81 562.0,226.30 563.0,226.77 564.0,227.22 565.0,227.64 566.0,228.03 567.0,228.41 568.0,228.76 569.0,229.09 570.0,229.41 571.0,229.70 572.0,229.98 573.0,230.24 574.0,230.49 575.0,230.73 576.0,230.95 577.0,231.15 578.0,231.35 579.0,231.54 580.0,231.71 581.0,231.87 582.0,232.03 583.0,232.17 584.0,232.31 585.0,232.44 586.0,232.56 587.0,232.67 588.0,232.78 589.0,232.88 590.0,232.98 591.0,233.07 592.0,233.15 593.0,233.23 594.0,233.31 595.0,233.38 596.0,233.44 597.0,233.50 598.0,233.56 599.0,233.62 600.0,233.67 601.0,233.72 602.0,233.77 603.0,233.81 604.0,233.85 605.0,233.89 606.0,233.92 607.0,233.96 608.0,233.99 609.0,234.02 610.0,234.05 611.0,234.07 612.0,234.10 613.0,234.12 614.0,234.14 615.0,234.17 616.0,234.18 617.0,234.20 618.0,234.22 619.0,234.24 620.0,234.25 621.0,234.27 622.0,234.28 623.0,234.29 624.0,234.30 625.0,234.32 626.0,234.33 627.0,234.34 628.0,234.35 629.0,234.35 630.0,234.36 631.0,234.37 632.0,234.38 633.0,234.39 634.0,234.39 635.0,234.40 636.0,234.40 637.0,234.41 638.0,234.41 639.0,234.42 640.0,234.42 641.0,234.43 642.0,234.43 643.0,234.44 644.0,234.44 645.0,234.44 646.0,234.45 647.0,234.45 648.0,234.45 649.0,234.45 650.0,234.46 651.0,234.46 652.0,234.46 653.0,234.46 654.0,234.46 655.0,234.47 656.0,234.47 657.0,234.47 658.0,234.47 659.0,234.47 660.0,234.47 661.0,234.47 662.0,234.48 663.0,234.48 664.0,234.48 665.0,234.48 666.0,234.48 667.0,234.48 668.0,234.48 669.0,234.48 670.0,234.48 671.0,234.48 672.0,234.48 673.0,234.48 674.0,234.49 675.0,234.49 676.0,234.49 677.0,234.49 678.0,234.49 679.0,234.49 680.0,234.49 681.0,234.49 682.0,234.49 683.0,234.49 684.0,234.49 685.0,234.49 686.0,234.49 687.0,234.49 688.0,234.49 689.0,234.49 690.0,234.49 691.0,234.49 692.0,234.49 693.0,234.49 694.0,234.49 695.0,234.49 696.0,234.49 697.0,234.49 698.0,234.49 699.0,234.49 700.0,234.49 701.0,234.49 702.0,234.49 703.0,234.49 703.7,234.49" fill="none" stroke="#000000" stroke-width="2.0" stroke-linejoin="round"/>
<polyline points="406.1,27.85 407.1,27.86 408.1,27.86 409.1,27.86 410.1,27.86 411.1,27.87 412.1,27.87 413.1,27.87 414.1,27.88 415.1,27.88 416.1,27.89 417.1,27.89 418.1,27.90 419.1,27.91 420.1,27.91 421.1,27.92 422.1,27.93 423.1,27.94 424.1,27.95 425.1,27.96 426.1,27.98 427.1,27.99 428.1,28.01 429.1,28.02 430.1,28.04 431.1,28.06 432.1,28.09 433.1,28.11 434.1,28.14 435.1,28.17 436.1,28.20 437.1,28.24 438.1,28.28 439.1,28.33 440.1,28.37 441.1,28.43 442.1,28.49 443.1,28.55 444.1,28.62 445.1,28.70 446.1,28.78 447.1,28.88 448.1,28.98 449.1,29.09 450.1,29.21 451.1,29.35 452.1,29.50 453.1,29.66 454.1,29.84 455.1,30.03 456.1,30.25 457.1,30.48 458.1,30.74 459.1,31.02 460.1,31.33 461.1,31.67 462.1,32.04 463.1,32.45 464.1,32.89 465.1,33.38 466.1,33.91 467.1,34.49 468.1,35.12 469.1,35.82 470.1,36.58 471.1,37.40 472.1,38.30 473.1,39.28 474.1,40.35 475.1,41.51 476.1,42.77 477.1,44.14 478.1,45.63 479.1,47.24 480.1,48.98 481.1,50.86 482.1,52.89 483.1,55.08 484.1,57.43 485.1,59.95 486.1,62.66 487.1,65.55 488.1,68.63 489.1,71.90 490.1,75.38 491.1,79.06 492.1,82.93 493.1,87.01 494.1,91.29 495.1,95.75 496.1,100.39 497.1,105.21 498.1,110.17 499.1,115.28 500.1,120.51 501.1,125.83 502.1,131.23 503.1,136.68 504.1,142.15 505.1,147.63 506.1,153.07 507.1,158.46 508.1,163.76 509.1,168.96 510.1,174.02 511.1,178.94 512.1,183.69 513.1,188.25 514.1,192.61 515.1,196.77 516.1,200.71 517.1,204.43 518.1,207.92 519.1,211.20 520.1,214.26 521.1,217.10 522.1,219.73 523.1,222.17 524.1,224.41 525.1,226.47 526.1,228.35 527.1,230.08 528.1,231.65 529.1,233.08 530.1,234.38 531.1,235.55 532.1,236.62 533.1,237.58 534.1,238.45 535.1,239.23 536.1,239.93 537.1,240.56 538.1,241.13 539.1,241.63 540.1,242.09 541.1,242.50 542.1,242.86 543.1,243.19 544.1,243.48 545.1,243.74 546.1,243.97 547.1,244.17 548.1,244.36 549.1,244.52 550.1,244.67 551.1,244.80 552.1,244.91 553.1,245.02 554.1,245.11 555.1,245.19 556.1,245.26 557.1,245.33 558.1,245.38 559.1,245.43 560.1,245.48 561.1,245.52 562.1,245.55 563.1,245.59 564.1,245.61 565.1,245.64 566.1,245.66 567.1,245.68 568.1,245.70 569.1,245.71 570.1,245.73 571.1,245.74 572.1,245.75 573.1,245.76 574.1,245.77 575.1,245.78 576.1,245.78 577.1,245.79 578.1,245.79 579.1,245.80 580.1,245.80 581.1,245.81 582.1,245.81 583.1,245.81 584.1,245.82 585.1,245.82 586.1,245.82 587.1,245.82 588.1,245.82 589.1,245.83 590.1,245.83 591.1,245.83 592.1,245.83 593.1,245.83 594.1,245.83 595.1,245.83 596.1,245.83 597.1,245.83 598.1,245.83 599.1,245.83 600.1,245.83 601.1,245.83 602.1,245.83 603.1,245.83 604.1,245.83 605.1,245.83 606.1,245.84 607.1,245.84 608.1,245.84 609.1,245.84 610.1,245.84 611.1,245.84 612.1,245.84 613.1,245.84 614.1,245.84 615.1,245.84 616.1,245.84 617.1,245.84 618.1,245.84 619.1,245.84 620.1,245.84 620.3,245.84" fill="none" stroke="#000000" stroke-width="2.0" stroke-dasharray="8.5,8.5" stroke-linejoin="round"/>
<polyline points="404.0,23.98 405.0,24.00 406.0,24.02 407.0,24.04 408.0,24.06 409.0,24.08 410.0,24.11 411.0,24.13 412.0,24.16 413.0,24.19 414.0,24.22 415.0,24.25 416.0,24.29 417.0,24.32 418.0,24.36 419.0,24.40 420.0,24.44 421.0,24.49 422.0,24.53 423.0,24.58 424.0,24.63 425.0,24.69 426.0,24.75 427.0,24.81 428.0,24.87 429.0,24.94 430.0,25.01 431.0,25.08 432.0,25.16 433.0,25.24 434.0,25.33 435.0,25.42 436.0,25.51 437.0,25.62 438.0,25.72 439.0,25.83 440.0,25.95 441.0,26.07 442.0,26.20 443.0,26.34 444.0,26.49 445.0,26.64 446.0,26.80 447.0,26.97 448.0,27.14 449.0,27.33 450.0,27.52 451.0,27.73 452.0,27.95 453.0,28.17 454.0,28.41 455.0,28.66 456.0,28.93 457.0,29.21 458.0,29.50 459.0,29.80 460.0,30.12 461.0,30.46 462.0,30.82 463.0,31.19 464.0,31.58 465.0,31.99 466.0,32.42 467.0,32.87 468.0,33.35 469.0,33.85 470.0,34.37 471.0,34.91 472.0,35.48 473.0,36.08 474.0,36.71 475.0,37.37 476.0,38.06 477.0,38.77 478.0,39.53 479.0,40.31 480.0,41.13 481.0,41.99 482.0,42.89 483.0,43.82 484.0,44.80 485.0,45.81 486.0,46.87 487.0,47.97 488.0,49.12 489.0,50.32 490.0,51.56 491.0,52.85 492.0,54.19 493.0,55.58 494.0,57.02 495.0,58.51 496.0,60.06 497.0,61.66 498.0,63.32 499.0,65.02 500.0,66.79 501.0,68.61 502.0,70.48 503.0,72.41 504.0,74.40 505.0,76.44 506.0,78.53 507.0,80.67 508.0,82.87 509.0,85.12 510.0,87.42 511.0,89.77 512.0,92.16 513.0,94.60 514.0,97.07 515.0,99.59 516.0,102.15 517.0,104.74 518.0,107.37 519.0,110.02 520.0,112.70 521.0,115.40 522.0,118.13 523.0,120.87 524.0,123.62 525.0,126.38 526.0,129.15 527.0,131.92 528.0,134.68 529.0,137.45 530.0,140.20 531.0,142.95 532.0,145.67 533.0,148.38 534.0,151.07 535.0,153.74 536.0,156.37 537.0,158.98 538.0,161.55 539.0,164.08 540.0,166.58 541.0,169.04 542.0,171.45 543.0,173.83 544.0,176.15 545.0,178.43 546.0,180.66 547.0,182.84 548.0,184.97 549.0,187.05 550.0,189.08 551.0,191.05 552.0,192.98 553.0,194.85 554.0,196.67 555.0,198.43 556.0,200.14 557.0,201.81 558.0,203.42 559.0,204.98 560.0,206.49 561.0,207.95 562.0,209.36 563.0,210.72 564.0,212.04 565.0,213.31 566.0,214.54 567.0,215.72 568.0,216.86 569.0,217.95 570.0,219.01 571.0,220.03 572.0,221.01 573.0,221.95 574.0,222.85 575.0,223.72 576.0,224.56 577.0,225.36 578.0,226.13 579.0,226.87 580.0,227.58 581.0,228.26 582.0,228.91 583.0,229.54 584.0,230.14 585.0,230.71 586.0,231.26 587.0,231.79 588.0,232.30 589.0,232.78 590.0,233.25 591.0,233.69 592.0,234.12 593.0,234.52 594.0,234.91 595.0,235.29 596.0,235.64 597.0,235.98 598.0,236.31 599.0,236.62 600.0,236.92 601.0,237.21 602.0,237.48 603.0,237.74 604.0,237.99 605.0,238.23 606.0,238.46 607.0,238.68 608.0,238.88 609.0,239.08 610.0,239.27 611.0,239.45 612.0,239.63 613.0,239.79 614.0,239.95 615.0,240.10 616.0,240.25 617.0,240.39 618.0,240.52 619.0,240.65 620.0,240.77 621.0,240.88 622.0,240.99 623.0,241.10 624.0,241.20 625.0,241.29 626.0,241.38 627.0,241.47 628.0,241.55 629.0,241.63 630.0,241.71 631.0,241.78 632.0,241.85 633.0,241.92 634.0,241.98 635.0,242.04 636.0,242.10 637.0,242.15 638.0,242.21 639.0,242.26 640.0,242.30 641.0,242.35 642.0,242.39 643.0,242.43 644.0,242.47 645.0,242.51 646.0,242.55 647.0,242.58 648.0,242.62 649.0,242.65 650.0,242.68 651.0,242.71 652.0,242.73 653.0,242.76 654.0,242.78 655.0,242.81 656.0,242.83 657.0,242.85 658.0,242.87 659.0,242.89 660.0,242.91 661.0,242.93 662.0,242.95 663.0,242.96 664.0,242.98 665.0,243.00 666.0,243.01 667.0,243.02 668.0,243.04 669.0,243.05 670.0,243.06 671.0,243.07 672.0,243.08 673.0,243.09 674.0,243.10 675.0,243.11 676.0,243.12 677.0,243.13 678.0,243.14 679.0,243.15 680.0,243.15 681.0,243.16 682.0,243.17 683.0,243.17 684.0,243.18 685.0,243.19 686.0,243.19 687.0,243.20 688.0,243.20 689.0,243.21 690.0,243.21 691.0,243.22 692.0,243.22 693.0,243.22 694.0,243.23 695.0,243.23 696.0,243.24 697.0,243.24 698.0,243.24 699.0,243.24 700.0,243.25 701.0,243.25 702.0,243.25 703.0,243.26 703.7,243.26" fill="none" stroke="#ff0000" stroke-width="2.0" stroke-linejoin="round"/>
<polyline points="406.1,34.35 407.1,34.36 408.1,34.37 409.1,34.38 410.1,34.39 411.1,34.40 412.1,34.41 413.1,34.43 414.1,34.44 415.1,34.46 416.1,34.48 417.1,34.50 418.1,34.52 419.1,34.54 420.1,34.57 421.1,34.59 422.1,34.62 423.1,34.65 424.1,34.69 425.1,34.72 426.1,34.76 427.1,34.80 428.1,34.85 429.1,34.90 430.1,34.95 431.1,35.01 432.1,35.07 433.1,35.13 434.1,35.21 435.1,35.28 436.1,35.36 437.1,35.45 438.1,35.55 439.1,35.65 440.1,35.76 441.1,35.88 442.1,36.01 443.1,36.15 444.1,36.30 445.1,36.46 446.1,36.64 447.1,36.83 448.1,37.03 449.1,37.24 450.1,37.48 451.1,37.73 452.1,38.00 453.1,38.29 454.1,38.61 455.1,38.94 456.1,39.31 457.1,39.70 458.1,40.11 459.1,40.57 460.1,41.05 461.1,41.57 462.1,42.12 463.1,42.72 464.1,43.36 465.1,44.05 466.1,44.79 467.1,45.57 468.1,46.42 469.1,47.32 470.1,48.28 471.1,49.31 472.1,50.41 473.1,51.59 474.1,52.83 475.1,54.17 476.1,55.58 477.1,57.08 478.1,58.68 479.1,60.37 480.1,62.17 481.1,64.06 482.1,66.07 483.1,68.18 484.1,70.41 485.1,72.75 486.1,75.21 487.1,77.78 488.1,80.48 489.1,83.29 490.1,86.22 491.1,89.27 492.1,92.43 493.1,95.71 494.1,99.09 495.1,102.57 496.1,106.15 497.1,109.82 498.1,113.57 499.1,117.39 500.1,121.28 501.1,125.22 502.1,129.21 503.1,133.22 504.1,137.26 505.1,141.30 506.1,145.34 507.1,149.37 508.1,153.36 509.1,157.32 510.1,161.22 511.1,165.07 512.1,168.84 513.1,172.53 514.1,176.13 515.1,179.64 516.1,183.04 517.1,186.33 518.1,189.51 519.1,192.58 520.1,195.52 521.1,198.34 522.1,201.04 523.1,203.62 524.1,206.07 525.1,208.40 526.1,210.62 527.1,212.71 528.1,214.69 529.1,216.56 530.1,218.33 531.1,219.99 532.1,221.55 533.1,223.01 534.1,224.39 535.1,225.67 536.1,226.88 537.1,228.00 538.1,229.05 539.1,230.03 540.1,230.94 541.1,231.79 542.1,232.58 543.1,233.31 544.1,234.00 545.1,234.63 546.1,235.22 547.1,235.76 548.1,236.27 549.1,236.74 550.1,237.17 551.1,237.58 552.1,237.95 553.1,238.29 554.1,238.61 555.1,238.91 556.1,239.18 557.1,239.43 558.1,239.66 559.1,239.88 560.1,240.08 561.1,240.26 562.1,240.43 563.1,240.58 564.1,240.73 565.1,240.86 566.1,240.98 567.1,241.10 568.1,241.20 569.1,241.30 570.1,241.39 571.1,241.47 572.1,241.54 573.1,241.61 574.1,241.68 575.1,241.74 576.1,241.79 577.1,241.84 578.1,241.89 579.1,241.93 580.1,241.97 581.1,242.01 582.1,242.04 583.1,242.07 584.1,242.10 585.1,242.12 586.1,242.15 587.1,242.17 588.1,242.19 589.1,242.21 590.1,242.23 591.1,242.24 592.1,242.26 593.1,242.27 594.1,242.28 595.1,242.30 596.1,242.31 597.1,242.32 598.1,242.33 599.1,242.33 600.1,242.34 601.1,242.35 602.1,242.35 603.1,242.36 604.1,242.37 605.1,242.37 606.1,242.38 607.1,242.38 608.1,242.38 609.1,242.39 610.1,242.39 611.1,242.39 612.1,242.40 613.1,242.40 614.1,242.40 615.1,242.40 616.1,242.41 617.1,242.41 618.1,242.41 619.1,242.41 620.1,242.41 620.3,242.41" fill="none" stroke="#ff0000" stroke-width="2.0" stroke-dasharray="10,4.3,2.8,4.3" stroke-linejoin="round"/>
</svg>
</body></html>
